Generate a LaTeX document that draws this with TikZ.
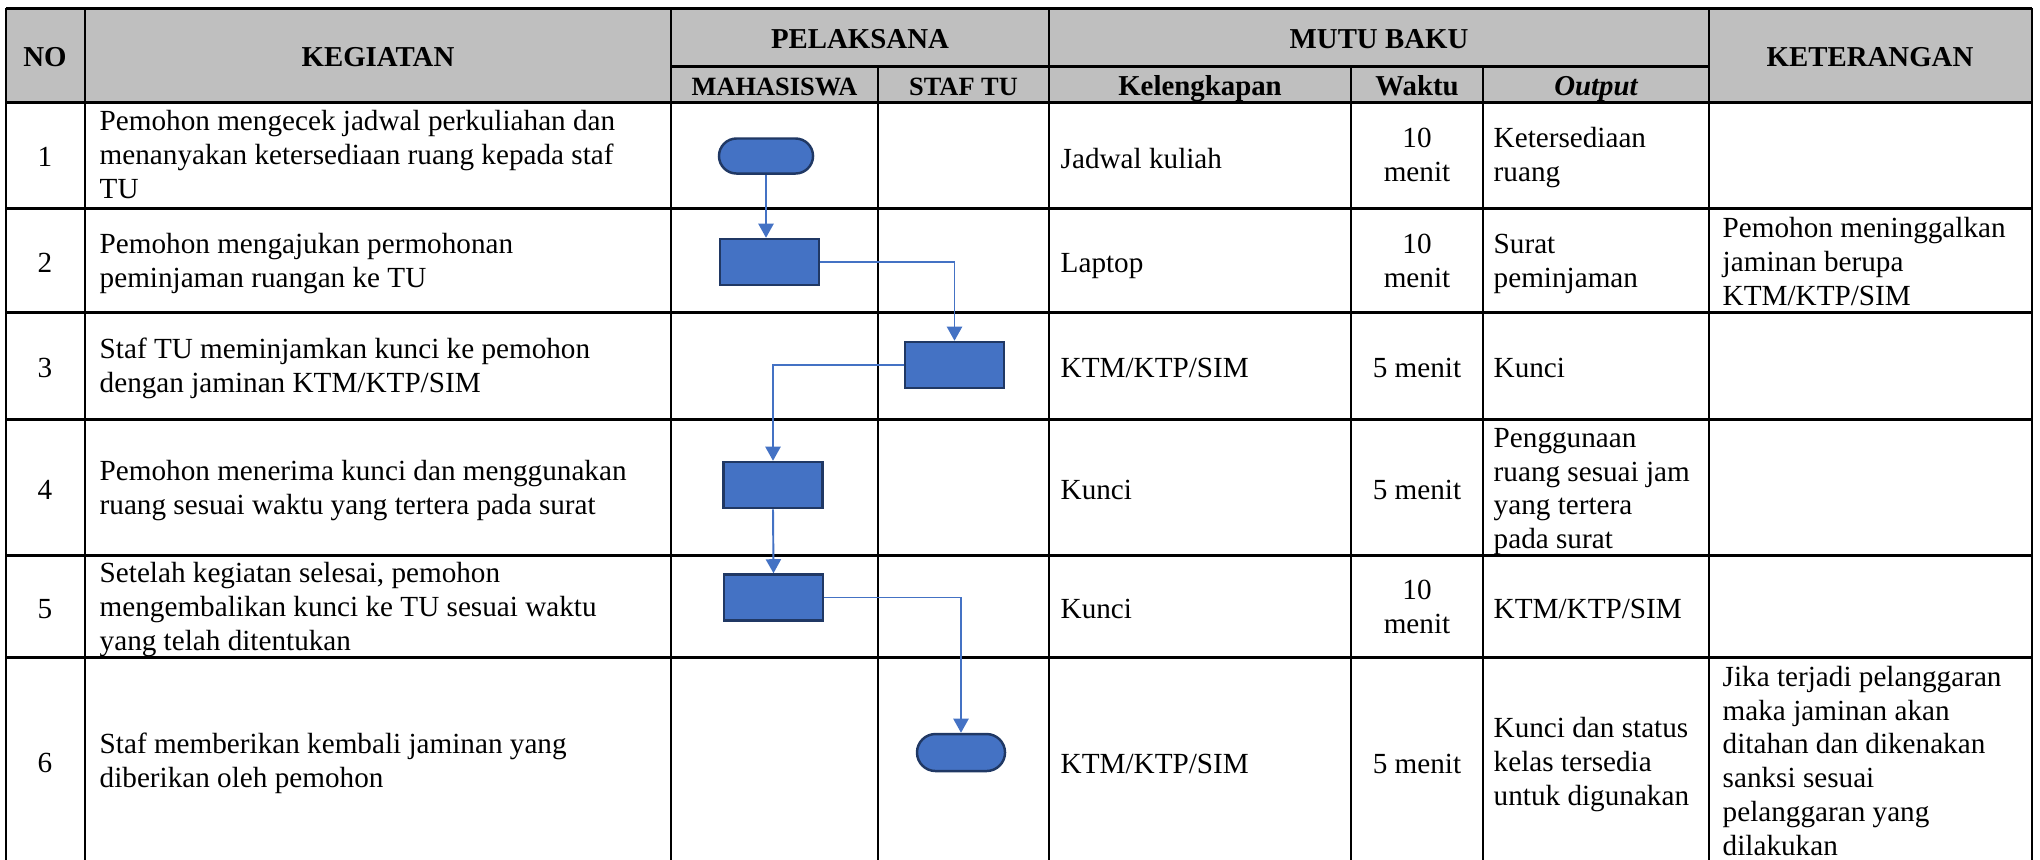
\documentclass[tikz,border=0pt]{standalone}
\usepackage{fontspec}
\setmainfont{Liberation Serif}
\usetikzlibrary{arrows.meta}
\definecolor{hdrgray}{HTML}{BFBFBF}
\definecolor{flowblue}{HTML}{4472C4}
\definecolor{flowedge}{HTML}{203864}
\begin{document}
\begin{tikzpicture}[x=0.01cm,y=-0.01cm,
  body/.style={font=\fontsize{8.3}{9.6}\selectfont, inner sep=0pt, align=left, anchor=west,
    yshift=-1.3pt, execute at begin node=\strut, execute at end node=\strut},
  bodyc/.style={body, align=center, anchor=center},
  hdr/.style={font=\fontsize{8.2}{9.6}\selectfont\bfseries, inner sep=0pt, text height=0.66em, text depth=0pt},
  hdrs/.style={hdr, font=\fontsize{7.5}{9}\selectfont\bfseries},
  proc/.style={draw=flowedge, fill=flowblue, line width=0.7pt, minimum width=0.99cm, minimum height=0.46cm, inner sep=0pt},
  term/.style={proc, rounded corners=0.175cm, minimum width=0.94cm, minimum height=0.35cm},
  flow/.style={draw=flowblue, line width=0.55pt, -{Triangle[length=4pt,width=4.3pt]}},
  hline/.style={line width=0.85pt},
  vline/.style={line width=0.65pt},
]
\useasboundingbox (0,0) rectangle (2040,859);
\clip (0,0) rectangle (2040,859);

% header background
\fill[hdrgray] (6,8) rectangle (2032,102);

% horizontal lines
\foreach \yy in {8,102,208,312,419,555,657}{\draw[hline] (6,\yy) -- (2032,\yy);}
\draw[hline] (671,66) -- (1709,66);
% vertical lines
\foreach \xx in {6,85,671,1049,1709,2032}{\draw[vline] (\xx,8) -- (\xx,870);}
\foreach \xx in {878,1351,1483}{\draw[vline] (\xx,66) -- (\xx,870);}

% header texts
\node[hdr] (hno) at (45,55) {NO};
\node[hdr] (hkeg) at (378,55) {KEGIATAN};
\node[hdr] (hpel) at (860,37) {PELAKSANA};
\node[hdrs] (hmhs) at (774.5,84) {MAHASISWA};
\node[hdrs] (hstaf) at (963.5,84) {STAF TU};
\node[hdr] (hmutu) at (1379,37) {MUTU BAKU};
\node[hdr] (hkel) at (1200,84) {Kelengkapan};
\node[hdr] (hwak) at (1417,84) {Waktu};
\node[hdr] (hout) at (1596,84) {\itshape Output};
\node[hdr] (hket) at (1870,55) {KETERANGAN};

% NO column
\node[bodyc] (n1) at (45,155) {1};
\node[bodyc] (n2) at (45,261) {2};
\node[bodyc] (n3) at (45,366) {3};
\node[bodyc] (n4) at (45,488) {4};
\node[bodyc] (n5) at (45,607) {5};
\node[bodyc] (n6) at (45,761) {6};

% KEGIATAN column
\node[body] (k1) at (99,155) {Pemohon mengecek jadwal perkuliahan dan\\menanyakan ketersediaan ruang kepada staf\\TU};
\node[body] (k2) at (99,261) {Pemohon mengajukan permohonan\\peminjaman ruangan ke TU};
\node[body] (k3) at (99,366) {Staf TU meminjamkan kunci ke pemohon\\dengan jaminan KTM/KTP/SIM};
\node[body] (k4) at (99,488) {Pemohon menerima kunci dan menggunakan\\ruang sesuai waktu yang tertera pada surat};
\node[body] (k5) at (99,607) {Setelah kegiatan selesai, pemohon\\mengembalikan kunci ke TU sesuai waktu\\yang telah ditentukan};
\node[body] (k6) at (99,761) {Staf memberikan kembali jaminan yang\\diberikan oleh pemohon};

% Kelengkapan column
\node[body] (l1) at (1060,157) {Jadwal kuliah};
\node[body] (l2) at (1060,261) {Laptop};
\node[body] (l3) at (1060,366) {KTM/KTP/SIM};
\node[body] (l4) at (1060,488) {Kunci};
\node[body] (l5) at (1060,607) {Kunci};
\node[body] (l6) at (1060,762) {KTM/KTP/SIM};

% Waktu column
\node[bodyc] (w1) at (1417,155) {10\\menit};
\node[bodyc] (w2) at (1417,261) {10\\menit};
\node[bodyc] (w3) at (1417,366) {5 menit};
\node[bodyc] (w4) at (1417,488) {5 menit};
\node[bodyc] (w5) at (1417,607) {10\\menit};
\node[bodyc] (w6) at (1417,762) {5 menit};

% Output column
\node[body] (o1) at (1493,155) {Ketersediaan\\ruang};
\node[body] (o2) at (1493,261) {Surat\\peminjaman};
\node[body] (o3) at (1493,366) {Kunci};
\node[body] (o4) at (1493,489) {Penggunaan\\ruang sesuai jam\\yang tertera\\pada surat};
\node[body] (o5) at (1493,607) {KTM/KTP/SIM};
\node[body] (o6) at (1493,762) {Kunci dan status\\kelas tersedia\\untuk digunakan};

% Keterangan column
\node[body] (c2) at (1722,262) {Pemohon meninggalkan\\jaminan berupa\\KTM/KTP/SIM};
\node[body] (c6) at (1722,761) {Jika terjadi pelanggaran\\maka jaminan akan\\ditahan dan dikenakan\\sanksi sesuai\\pelanggaran yang\\dilakukan};

% flowchart
\node[term] (t1) at (766,156) {};
\node[proc] (b2) at (769.5,262) {};
\node[proc] (b3) at (954.5,365) {};
\node[proc] (b4) at (773,485) {};
\node[proc] (b5) at (773.5,597.5) {};
\node[term, minimum width=0.88cm, minimum height=0.37cm, rounded corners=0.185cm] (t6) at (961,752.5) {};

\draw[flow] (t1.south) -- (t1.south |- b2.north);
\draw[flow] (b2.east) -| (b3.north);
\draw[flow] (b3.west) -| (b4.north);
\draw[flow] (b4.south) -- (b5.north);
\draw[flow] (b5.east) -| (t6.north);
\end{tikzpicture}
\end{document}
